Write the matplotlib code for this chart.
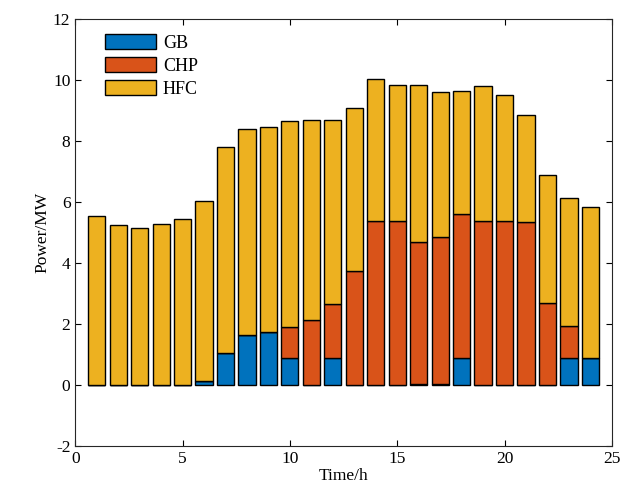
import numpy as np
import matplotlib.pyplot as plt

plt.rcParams['font.family'] = ['Liberation Serif', 'DejaVu Serif']
plt.rcParams['font.size'] = 12
plt.rcParams['axes.unicode_minus'] = False

# Data
hours = np.arange(1, 25)
gb = [0, 0, 0, 0, 0, 0.15, 1.05, 1.65, 1.75, 0.9, 0, 0.9,
      0, 0, 0, 0.05, 0.05, 0.9, 0, 0, 0, 0, 0.9, 0.9]
chp = [0, 0, 0, 0, 0, 0, 0, 0, 0, 1.0, 2.15, 1.75,
       3.75, 5.4, 5.4, 4.65, 4.8, 4.7, 5.4, 5.4, 5.35, 2.7, 1.05, 0]
total = [5.55, 5.25, 5.15, 5.3, 5.45, 6.05, 7.8, 8.4, 8.45, 8.65, 8.7, 8.7,
         9.1, 10.05, 9.85, 9.85, 9.6, 9.65, 9.8, 9.5, 8.85, 6.9, 6.15, 5.85]
hfc = [t - g - c for t, g, c in zip(total, gb, chp)]

colors = {"GB": "#0072BD", "CHP": "#D95319", "HFC": "#EDB120"}

fig = plt.figure(figsize=(6.38, 4.92), dpi=100)
ax = fig.add_axes([0.118, 0.093, 0.841, 0.868])

w = 0.8
ax.bar(hours, gb, w, color=colors["GB"], edgecolor="black", linewidth=1, label="GB")
ax.bar(hours, chp, w, bottom=gb, color=colors["CHP"], edgecolor="black", linewidth=1, label="CHP")
bottom2 = [g + c for g, c in zip(gb, chp)]
ax.bar(hours, hfc, w, bottom=bottom2, color=colors["HFC"], edgecolor="black", linewidth=1, label="HFC")

ax.set_xlim(0, 25)
ax.set_ylim(-2, 12)
ax.set_xticks([0, 5, 10, 15, 20, 25])
ax.set_yticks(range(-2, 13, 2))
ax.tick_params(direction="in", top=True, right=True, length=4, labelsize=12.5)
ax.set_xlabel("Time/h", fontsize=12.5, labelpad=1)
ax.set_ylabel("Power/MW", fontsize=12.5, labelpad=2)
for s in ax.spines.values():
    s.set_color("#262626")

ax.legend(loc="upper left", frameon=False, fontsize=13, handlelength=2.8,
          handleheight=0.9, labelspacing=0.3, handletextpad=0.4,
          borderaxespad=0.3, bbox_to_anchor=(0.032, 0.995))

fig.savefig("out.png", dpi=100)
